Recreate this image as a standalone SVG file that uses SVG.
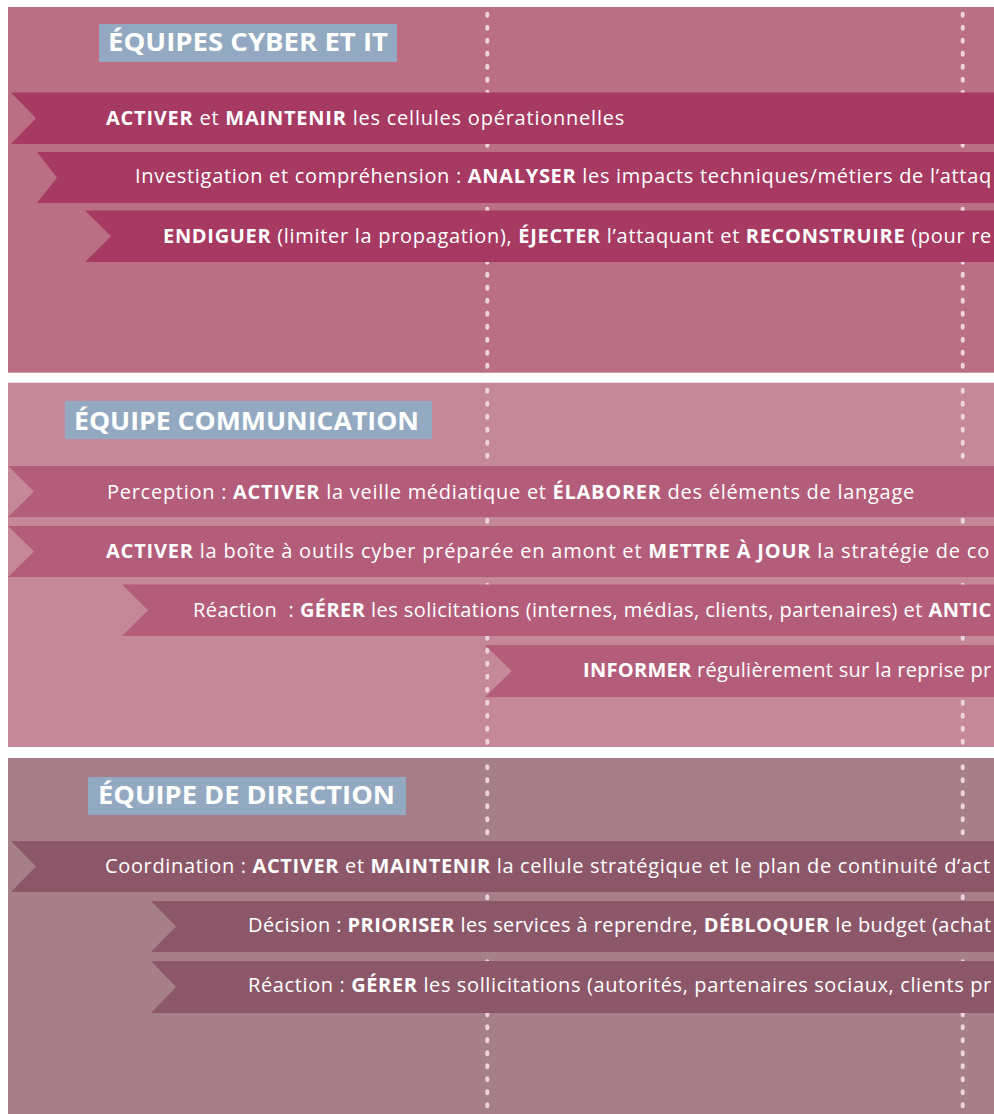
<svg xmlns="http://www.w3.org/2000/svg" width="994" height="1114" viewBox="0 0 994 1114">
<style>
.p1{fill:#ba6f84}.p2{fill:#c48899}.p3{fill:#a67f89}
.b1{fill:#a63a63}.b2{fill:#b45d7b}.b3{fill:#8c5869}
.lab{fill:#93a9c1}
.ht{font-family:"Open Sans","Liberation Sans",sans-serif;font-weight:700;font-size:25.5px;fill:#ffffff}
.t{font-family:"Open Sans","Liberation Sans",sans-serif;font-size:20px;letter-spacing:0.75px;fill:#ffffff;white-space:pre}
.t tspan.b{font-weight:700}
.dots{stroke:#ecd3dc;stroke-width:4;stroke-linecap:round;stroke-dasharray:2 11;fill:none}
</style>
<rect width="994" height="1114" fill="#ffffff"/>
<g id="panel-cyber">
<rect class="p1" x="8" y="7" width="990" height="365.7"/>
</g>
<g id="panel-comm">
<rect class="p2" x="8" y="382.7" width="990" height="364.3"/>
</g>
<g id="panel-direction">
<rect class="p3" x="8" y="758" width="990" height="360"/>
</g>
<g id="connectors">
<line class="dots" x1="487.3" y1="13.7" x2="487.3" y2="372"/>
<line class="dots" x1="962.7" y1="13.7" x2="962.7" y2="372"/>
<line class="dots" x1="487.3" y1="389.7" x2="487.3" y2="746"/>
<line class="dots" x1="962.7" y1="389.7" x2="962.7" y2="746"/>
<line class="dots" x1="487.3" y1="766.3" x2="487.3" y2="1114"/>
<line class="dots" x1="962.7" y1="766.3" x2="962.7" y2="1114"/>
</g>
<g id="label-cyber">
<rect class="lab" x="99" y="24" width="298" height="38"/>
<text class="ht" x="108" y="50.7" textLength="280" lengthAdjust="spacingAndGlyphs">ÉQUIPES CYBER ET IT</text>
</g>
<g id="band-cyber-1">
<polygon class="b1" points="11,92.5 1000,92.5 1000,144 11,144 36,118.3"/>
<text class="t" x="106" y="125" textLength="519"><tspan class="b">ACTIVER</tspan> et <tspan class="b">MAINTENIR</tspan> les cellules opérationnelles</text>
</g>
<g id="band-cyber-2">
<polygon class="b1" points="37,152 1000,152 1000,203 37,203 57,177.5"/>
<text class="t" x="135" y="183.3" textLength="857">Investigation et compréhension : <tspan class="b">ANALYSER</tspan> les impacts techniques/métiers de l’attaq</text>
</g>
<g id="band-cyber-3">
<polygon class="b1" points="85,210.5 1000,210.5 1000,262 85,262 111,236.3"/>
<text class="t" x="163" y="242.7" textLength="829"><tspan class="b">ENDIGUER</tspan> (limiter la propagation), <tspan class="b">ÉJECTER</tspan> l’attaquant et <tspan class="b">RECONSTRUIRE</tspan> (pour re</text>
</g>
<g id="label-comm">
<rect class="lab" x="65" y="401" width="367" height="38"/>
<text class="ht" x="74" y="430" textLength="345" lengthAdjust="spacingAndGlyphs">ÉQUIPE COMMUNICATION</text>
</g>
<g id="band-comm-1">
<polygon class="b2" points="8,466 1000,466 1000,517 8,517 34,491.5"/>
<text class="t" x="107" y="499" textLength="808">Perception : <tspan class="b">ACTIVER</tspan> la veille médiatique et <tspan class="b">ÉLABORER</tspan> des éléments de langage</text>
</g>
<g id="band-comm-2">
<polygon class="b2" points="8,526 1000,526 1000,577 8,577 34,551.5"/>
<text class="t" x="106" y="558" textLength="884"><tspan class="b">ACTIVER</tspan> la boîte à outils cyber préparée en amont et <tspan class="b">METTRE À JOUR</tspan> la stratégie de co</text>
</g>
<g id="band-comm-3">
<polygon class="b2" points="122,584.5 1000,584.5 1000,636 122,636 148,610.3"/>
<text class="t" x="193" y="617" textLength="799">Réaction  : <tspan class="b">GÉRER</tspan> les solicitations (internes, médias, clients, partenaires) et <tspan class="b">ANTIC</tspan></text>
</g>
<g id="band-comm-4">
<polygon class="b2" points="485,645 1000,645 1000,697 485,697 511.7,671"/>
<text class="t" x="583" y="677" textLength="409"><tspan class="b">INFORMER</tspan> régulièrement sur la reprise pr</text>
</g>
<g id="label-direction">
<rect class="lab" x="88" y="777" width="318" height="38"/>
<text class="ht" x="98" y="804.3" textLength="297" lengthAdjust="spacingAndGlyphs">ÉQUIPE DE DIRECTION</text>
</g>
<g id="band-direction-1">
<polygon class="b3" points="11,841 1000,841 1000,892 11,892 36,866.5"/>
<text class="t" x="105" y="873" textLength="886">Coordination : <tspan class="b">ACTIVER</tspan> et <tspan class="b">MAINTENIR</tspan> la cellule stratégique et le plan de continuité d’act</text>
</g>
<g id="band-direction-2">
<polygon class="b3" points="151,901 1000,901 1000,952 151,952 176,926.5"/>
<text class="t" x="248" y="932" textLength="744">Décision : <tspan class="b">PRIORISER</tspan> les services à reprendre, <tspan class="b">DÉBLOQUER</tspan> le budget (achat</text>
</g>
<g id="band-direction-3">
<polygon class="b3" points="151,961 1000,961 1000,1013 151,1013 176,987"/>
<text class="t" x="248" y="992" textLength="744">Réaction : <tspan class="b">GÉRER</tspan> les sollicitations (autorités, partenaires sociaux, clients pr</text>
</g>
</svg>
